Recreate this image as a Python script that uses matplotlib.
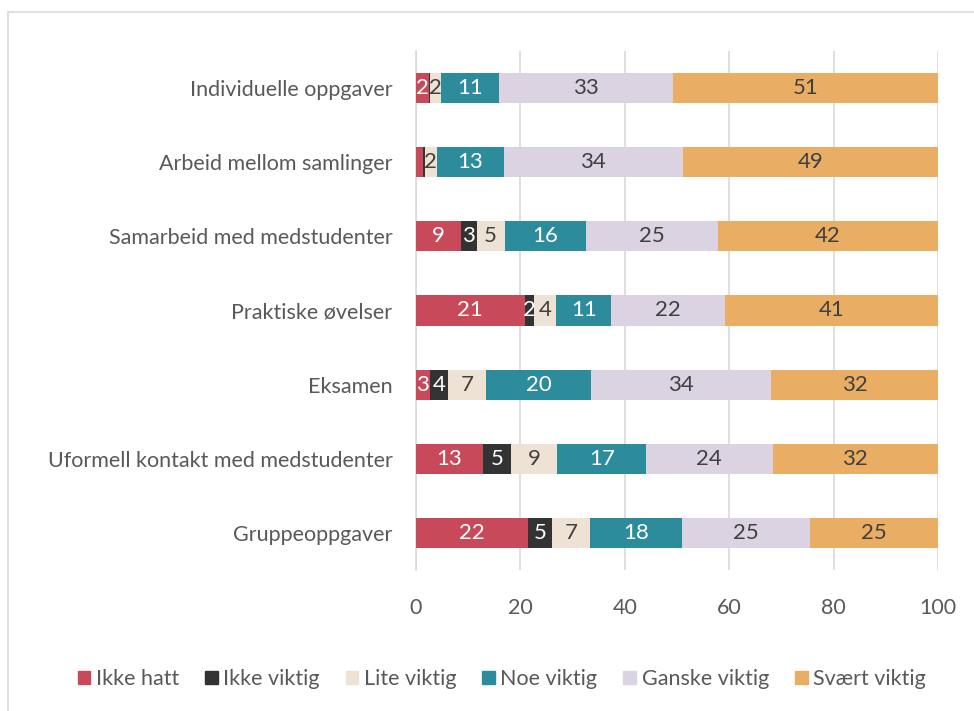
import matplotlib
matplotlib.use("Agg")
import matplotlib.pyplot as plt
from matplotlib.patches import Rectangle

plt.rcParams['font.family'] = ['Lato', 'DejaVu Sans']

categories = ["Individuelle oppgaver", "Arbeid mellom samlinger", "Samarbeid med medstudenter",
              "Praktiske øvelser", "Eksamen", "Uformell kontakt med medstudenter", "Gruppeoppgaver"]
series = ["Ikke hatt", "Ikke viktig", "Lite viktig", "Noe viktig", "Ganske viktig", "Svært viktig"]
ikke_hatt = [2.4, 1.3, 8.6, 20.8, 2.6, 12.8, 21.5]
ikke_viktig = [0.3, 0.4, 3.0, 1.9, 3.6, 5.4, 4.6]
lite_viktig = [2.1, 2.3, 5.4, 4.2, 7.2, 8.9, 7.2]
noe_viktig = [11.1, 12.8, 15.5, 10.5, 20.2, 17.0, 17.6]
ganske_viktig = [33.3, 34.3, 25.3, 21.8, 34.4, 24.2, 24.6]
svaert_viktig = [50.8, 48.9, 42.3, 40.8, 32.0, 31.7, 24.5]
xticks = [0, 20, 40, 60, 80, 100]

values = [ikke_hatt, ikke_viktig, lite_viktig, noe_viktig, ganske_viktig, svaert_viktig]
colors = ["#C84A5A", "#333333", "#EDE2D3", "#2D8C9C", "#DBD3E1", "#E9AE63"]
text_colors = ["white", "white", "#404040", "white", "#404040", "#404040"]
FS = 15.5

fig = plt.figure(figsize=(9.74, 7.11), dpi=100)
# outer chart border
fig.patches.append(Rectangle((8/974, -0.05), 1.1, 1 - 12/711 + 0.05, transform=fig.transFigure,
                             fill=False, edgecolor="#D9D9D9", linewidth=1.2))

ax = fig.add_axes([416/974, 1 - 570/711, (938 - 416)/974, (570 - 51)/711])
ypos = list(range(len(categories)))
left = [0.0] * len(categories)
for vals, col, tc, name in zip(values, colors, text_colors, series):
    ax.barh(ypos, vals, left=left, height=0.405, color=col, label=name, zorder=3)
    for y, v, l in zip(ypos, vals, left):
        if v >= 1.5:
            ax.text(l + v / 2, y, f"{int(v + 0.5)}", ha="center", va="center",
                    color=tc, fontsize=16, zorder=4)
    left = [a + b for a, b in zip(left, vals)]

ax.set_xlim(0, 100)
ax.set_ylim(len(categories) - 0.5, -0.5)
ax.set_yticks(ypos)
ax.set_yticklabels(categories)
ax.set_xticks(xticks)
ax.set_xticklabels([str(t) for t in xticks])
ax.tick_params(axis='both', length=0, labelsize=FS, colors="#595959")
ax.tick_params(axis='y', pad=17)
ax.tick_params(axis='x', pad=20)
ax.grid(axis='x', color="#D9D9D9", linewidth=1.2, zorder=0)
for s in ["top", "right", "bottom"]:
    ax.spines[s].set_visible(False)
ax.spines["left"].set_color("#D9D9D9")
ax.spines["left"].set_linewidth(1.2)

handles = [Rectangle((0, 0), 1, 1, color=c) for c in colors]
fig.legend(handles, series, loc="center", bbox_to_anchor=(0.515, 1 - 679/711), ncol=6,
           frameon=False, fontsize=FS, handlelength=0.6, handleheight=0.6,
           handletextpad=0.25, columnspacing=1.2, labelcolor="#595959")

fig.savefig("out.png", dpi=100)
